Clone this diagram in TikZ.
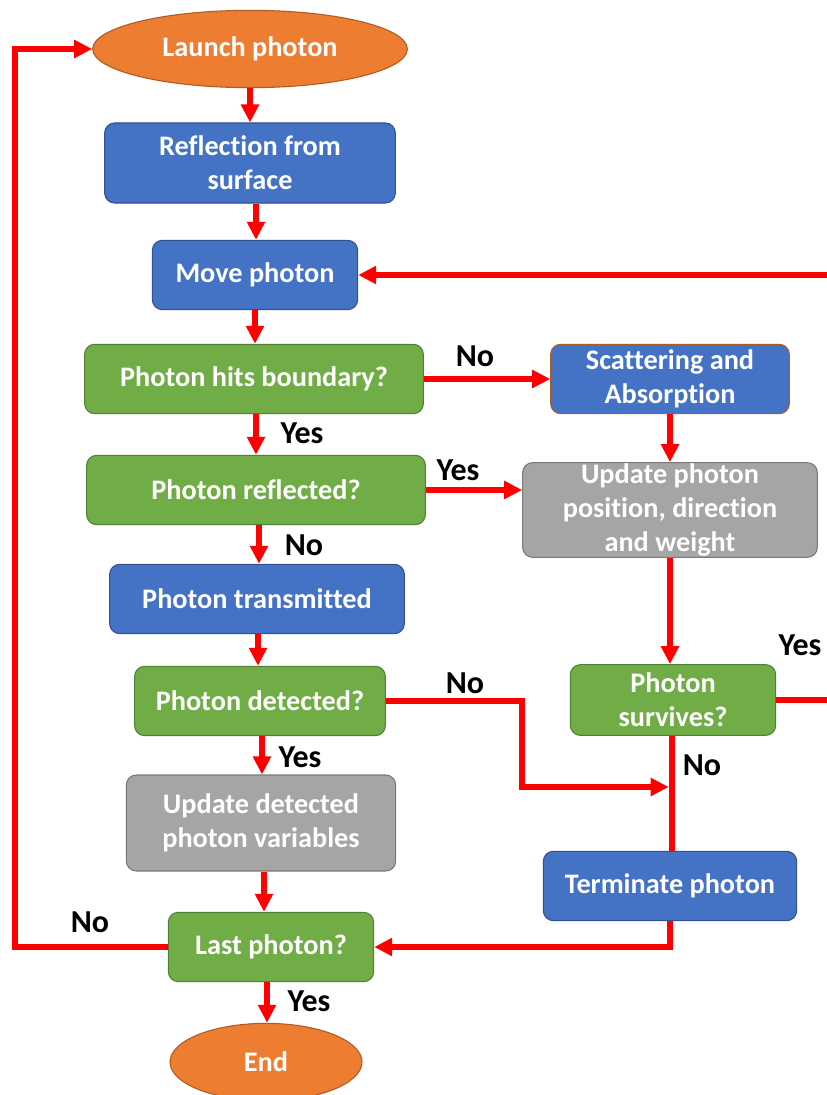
\documentclass[tikz,border=0pt]{standalone}
\usepackage{fontspec}
\setmainfont[Ligatures=NoCommon]{Carlito}
\usetikzlibrary{arrows.meta,shapes.geometric}

\definecolor{termfill}{HTML}{ED7D31}
\definecolor{termline}{HTML}{AE5A21}
\definecolor{procfill}{HTML}{4472C4}
\definecolor{procline}{HTML}{2F528F}
\definecolor{askfill}{HTML}{70AD47}
\definecolor{askline}{HTML}{507E32}
\definecolor{grayfill}{HTML}{A5A5A5}
\definecolor{grayline}{HTML}{787878}

\tikzset{
  box/.style={rounded corners=7.5pt, line width=0.8pt, inner sep=0pt, align=center,
    text=white, font=\fontsize{21.2}{25.5}\selectfont\bfseries},
  proc/.style={box, fill=procfill, draw=procline},
  ask/.style={box, fill=askfill, draw=askline},
  upd/.style={box, fill=grayfill, draw=grayline},
  term/.style={box, ellipse, fill=termfill, draw=termline},
  lbl/.style={font=\fontsize{24}{28}\selectfont\bfseries, inner sep=0pt},
  flow/.style={red, line width=3.8pt, -{Triangle[length=13.5pt,width=13pt]}},
}

\begin{document}
\begin{tikzpicture}[x=0.75pt, y=-0.75pt]
  \useasboundingbox (0,0) rectangle (826,1095);

  % main column
  \node[term, minimum width=236pt, minimum height=58pt] (launch) at (250,49) {Launch photon};
  \node[proc, minimum width=218pt, minimum height=60pt] (reflect) at (250,163) {Reflection from\\surface};
  \node[proc, minimum width=154pt, minimum height=52pt] (move) at (255,275) {Move photon};
  \node[ask, minimum width=254pt, minimum height=52pt] (hits) at (254,379) {Photon hits boundary?};
  \node[ask, minimum width=254pt, minimum height=52pt] (refl) at (256,490) {Photon reflected?};
  \node[proc, minimum width=221pt, minimum height=52pt] (trans) at (257,599) {Photon transmitted};
  \node[ask, minimum width=188pt, minimum height=52pt] (detect) at (260,701) {Photon detected?};
  \node[upd, minimum width=202pt, minimum height=72pt] (detvar) at (261,823) {Update detected\\photon variables};
  \node[ask, minimum width=154pt, minimum height=52pt] (last) at (271,947) {Last photon?};
  \node[term, minimum width=144pt, minimum height=58pt] (end) at (266,1062) {End};

  % right column
  \node[proc, draw=termline, minimum width=179pt, minimum height=52pt] (scatter) at (670,379) {Scattering and\\Absorption};
  \node[upd, minimum width=221pt, minimum height=71pt] (update) at (670,510) {Update photon\\position, direction\\and weight};
  \node[ask, minimum width=154pt, minimum height=53pt] (survive) at (673,700) {Photon\\survives?};
  \node[proc, minimum width=190pt, minimum height=52pt] (kill) at (670,886) {Terminate photon};

  \coordinate (join) at (672,787);
  \coordinate (outer) at (845,0);
  \coordinate (back) at (15,0);

  % connectors
  \draw[flow] (launch.south -| 250,0) -- (reflect.north -| 250,0);
  \draw[flow] (reflect.south -| 256,0) -- (move.north -| 256,0);
  \draw[flow] (move.south -| 255,0) -- (hits.north -| 255,0);
  \draw[flow] (hits.south -| 256,0) -- (refl.north -| 256,0);
  \draw[flow] (refl.south -| 259,0) -- (trans.north -| 259,0);
  \draw[flow] (trans.south -| 258,0) -- (detect.north -| 258,0);
  \draw[flow] (detect.south -| 262,0) -- (detvar.north -| 262,0);
  \draw[flow] (detvar.south -| 264,0) -- (last.north -| 264,0);
  \draw[flow] (last.south -| 267,0) -- (end.north -| 267,0);
  \draw[flow] (hits.east) -- (scatter.west);
  \draw[flow] (scatter.south) -- (update.north);
  \draw[flow] (refl.east) -- (update.west |- refl.east);
  \draw[flow] (update.south) -- (survive.north -| update.south);
  \draw[flow, -] (survive.south -| join) -- (kill.north -| join);
  \draw[flow] (detect.east) -| (522,787) -- ([xshift=-2.5pt]join);
  \draw[flow] (survive.east) -- (outer |- survive.east) -- (outer |- move.east) -- (move.east);
  \draw[flow] (kill.south) |- (last.east);
  \draw[flow] (last.west) -| (back |- launch.west) -- (launch.west);

  % branch labels
  \node[lbl] (l1) at (475,356) {No};
  \node[lbl] (l2) at (302,433) {Yes};
  \node[lbl] (l3) at (458,470) {Yes};
  \node[lbl] (l4) at (304,545) {No};
  \node[lbl] (l5) at (465,683) {No};
  \node[lbl] (l6) at (800,645) {Yes};
  \node[lbl] (l7) at (300,757) {Yes};
  \node[lbl] (l8) at (702,765) {No};
  \node[lbl] (l9) at (90,922) {No};
  \node[lbl] (l10) at (309,1001) {Yes};
\end{tikzpicture}
\end{document}
